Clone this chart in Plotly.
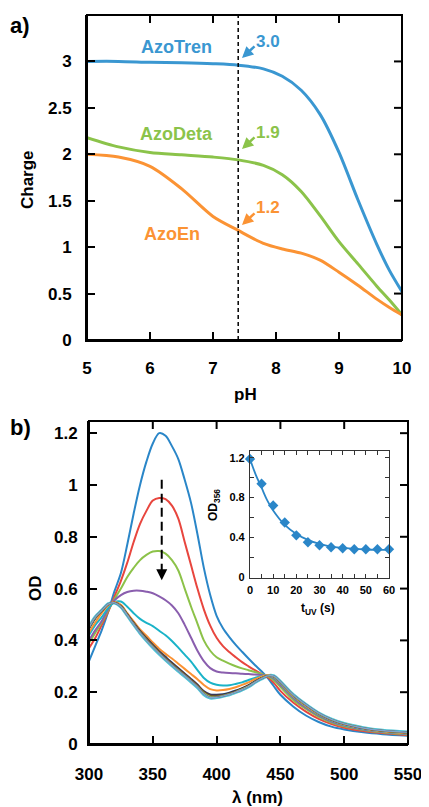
import plotly.graph_objects as go

# the page shows the figure 8 px in from the top-left corner of a 429x807 window
OFF = 8
W, H = 429 - OFF, 807 - OFF
FONT = "Liberation Sans"

# ---------------- Panel a data ----------------
ph = [5, 5.5, 6, 6.5, 7, 7.4, 7.8, 8.1, 8.4, 8.7, 9.0, 9.3, 9.6, 9.8, 10]
azotren = [3.0, 3.0, 2.99, 2.985, 2.975, 2.96, 2.92, 2.84, 2.69, 2.43, 2.02, 1.51, 1.03, 0.75, 0.52]
azodeta = [2.18, 2.08, 2.02, 1.995, 1.97, 1.94, 1.88, 1.78, 1.60, 1.34, 1.06, 0.82, 0.58, 0.43, 0.27]
azoen = [2.0, 1.97, 1.87, 1.63, 1.33, 1.18, 1.04, 0.98, 0.935, 0.86, 0.73, 0.59, 0.44, 0.35, 0.27]
ph_ref = 7.4
names_a = ["AzoTren", "AzoDeta", "AzoEn"]
values_at_ref = ["3.0", "1.9", "1.2"]
ph_ticks = [5, 6, 7, 8, 9, 10]
charge_ticks = [0, 0.5, 1, 1.5, 2, 2.5, 3]
charge_ticktext = ["0", "0.5", "1", "1.5", "2", "2.5", "3"]

# ---------------- Panel b data ----------------
wl = [300, 305, 310, 315, 320, 325, 330, 335, 340, 345, 350, 355, 360, 365, 370, 375, 380, 385, 390,
      395, 400, 405, 410, 415, 420, 425, 430, 435, 440, 445, 450, 460, 470, 480, 490, 500, 515, 530, 550]
od_t0 = [0.32, 0.38, 0.44, 0.51, 0.59, 0.66, 0.77, 0.89, 1.00, 1.09, 1.16, 1.20, 1.19, 1.15, 1.10, 1.02, 0.93, 0.81, 0.68,
         0.575, 0.495, 0.447, 0.413, 0.383, 0.356, 0.33, 0.305, 0.282, 0.255, 0.222, 0.19, 0.145, 0.11, 0.085, 0.067, 0.056, 0.045, 0.038, 0.032]
od_t5 = [0.37, 0.41, 0.46, 0.51, 0.57, 0.63, 0.70, 0.78, 0.85, 0.90, 0.94, 0.95, 0.945, 0.92, 0.87, 0.78, 0.69, 0.60, 0.52,
         0.457, 0.41, 0.378, 0.355, 0.335, 0.316, 0.30, 0.285, 0.271, 0.258, 0.235, 0.205, 0.16, 0.125, 0.097, 0.077, 0.063, 0.05, 0.042, 0.034]
od_t10 = [0.39, 0.43, 0.47, 0.515, 0.56, 0.60, 0.645, 0.68, 0.71, 0.73, 0.743, 0.745, 0.735, 0.71, 0.67, 0.60, 0.53, 0.465, 0.40,
          0.36, 0.335, 0.322, 0.31, 0.30, 0.292, 0.285, 0.278, 0.27, 0.262, 0.245, 0.22, 0.17, 0.135, 0.105, 0.083, 0.068, 0.054, 0.045, 0.037]
od_t15 = [0.40, 0.44, 0.475, 0.52, 0.555, 0.575, 0.587, 0.592, 0.592, 0.588, 0.582, 0.57, 0.555, 0.535, 0.505, 0.46, 0.41, 0.36, 0.32,
          0.293, 0.28, 0.276, 0.274, 0.273, 0.271, 0.27, 0.268, 0.266, 0.264, 0.252, 0.228, 0.178, 0.14, 0.11, 0.087, 0.071, 0.056, 0.047, 0.038]
od_t20 = [0.42, 0.46, 0.49, 0.525, 0.548, 0.55, 0.53, 0.505, 0.483, 0.468, 0.455, 0.437, 0.42, 0.398, 0.372, 0.345, 0.318, 0.285, 0.255,
          0.237, 0.229, 0.226, 0.227, 0.232, 0.238, 0.247, 0.255, 0.262, 0.265, 0.256, 0.234, 0.183, 0.145, 0.113, 0.09, 0.073, 0.058, 0.048, 0.04]
od_t25 = [0.43, 0.47, 0.505, 0.535, 0.548, 0.537, 0.505, 0.473, 0.442, 0.418, 0.392, 0.368, 0.348, 0.33, 0.31, 0.29, 0.27, 0.25, 0.228,
          0.212, 0.207, 0.208, 0.212, 0.219, 0.228, 0.238, 0.25, 0.26, 0.265, 0.258, 0.236, 0.185, 0.147, 0.115, 0.092, 0.075, 0.06, 0.049, 0.041]
od_t30 = [0.445, 0.485, 0.512, 0.538, 0.546, 0.533, 0.502, 0.469, 0.437, 0.41, 0.384, 0.359, 0.337, 0.315, 0.294, 0.273, 0.252, 0.23, 0.205,
          0.192, 0.191, 0.193, 0.199, 0.207, 0.216, 0.228, 0.242, 0.255, 0.263, 0.26, 0.238, 0.188, 0.15, 0.117, 0.094, 0.077, 0.061, 0.051, 0.043]
od_t35 = [0.447, 0.487, 0.513, 0.539, 0.546, 0.532, 0.5, 0.467, 0.434, 0.407, 0.381, 0.356, 0.333, 0.311, 0.29, 0.27, 0.249, 0.227, 0.202,
          0.188, 0.187, 0.189, 0.196, 0.204, 0.214, 0.226, 0.241, 0.254, 0.263, 0.261, 0.239, 0.189, 0.151, 0.118, 0.094, 0.077, 0.061, 0.051, 0.044]
od_t40 = [0.448, 0.488, 0.514, 0.539, 0.545, 0.531, 0.499, 0.465, 0.432, 0.404, 0.378, 0.353, 0.33, 0.308, 0.287, 0.267, 0.246, 0.224, 0.199,
          0.185, 0.184, 0.187, 0.194, 0.202, 0.212, 0.224, 0.24, 0.253, 0.263, 0.261, 0.239, 0.189, 0.151, 0.118, 0.095, 0.078, 0.062, 0.051, 0.044]
od_t45 = [0.449, 0.489, 0.514, 0.539, 0.545, 0.531, 0.498, 0.464, 0.431, 0.402, 0.376, 0.351, 0.328, 0.306, 0.285, 0.265, 0.244, 0.222, 0.196,
          0.182, 0.182, 0.186, 0.193, 0.201, 0.211, 0.223, 0.239, 0.253, 0.263, 0.261, 0.239, 0.189, 0.151, 0.118, 0.095, 0.078, 0.062, 0.052, 0.044]
od_t50 = [0.45, 0.49, 0.515, 0.54, 0.545, 0.53, 0.497, 0.463, 0.43, 0.401, 0.375, 0.35, 0.327, 0.305, 0.284, 0.264, 0.243, 0.221, 0.194,
          0.18, 0.181, 0.185, 0.192, 0.2, 0.21, 0.222, 0.238, 0.252, 0.263, 0.262, 0.24, 0.19, 0.152, 0.119, 0.095, 0.078, 0.062, 0.052, 0.045]
od_t55 = [0.45, 0.49, 0.515, 0.54, 0.545, 0.53, 0.497, 0.462, 0.429, 0.4, 0.374, 0.349, 0.326, 0.304, 0.283, 0.263, 0.242, 0.22, 0.193,
          0.179, 0.18, 0.185, 0.191, 0.2, 0.21, 0.222, 0.238, 0.252, 0.263, 0.262, 0.24, 0.19, 0.152, 0.119, 0.095, 0.078, 0.062, 0.052, 0.045]
od_t60 = [0.45, 0.49, 0.515, 0.54, 0.545, 0.53, 0.497, 0.462, 0.429, 0.4, 0.373, 0.348, 0.325, 0.303, 0.282, 0.262, 0.241, 0.219, 0.192,
          0.178, 0.18, 0.185, 0.191, 0.2, 0.21, 0.222, 0.238, 0.252, 0.263, 0.262, 0.24, 0.19, 0.152, 0.119, 0.095, 0.078, 0.062, 0.052, 0.045]
wl_ticks = [300, 350, 400, 450, 500, 550]
od_ticks = [0, 0.2, 0.4, 0.6, 0.8, 1.0, 1.2]
od_ticktext = ["0", "0.2", "0.4", "0.6", "0.8", "1", "1.2"]
peak_wl = 357
arrow_od = [1.02, 0.632]

# Inset data
t_uv = [0, 5, 10, 15, 20, 25, 30, 35, 40, 45, 50, 55, 60]
od356 = [1.19, 0.94, 0.72, 0.55, 0.42, 0.35, 0.32, 0.30, 0.29, 0.28, 0.28, 0.28, 0.28]
t_fit = [0, 2.5, 5, 7.5, 10, 15, 20, 25, 30, 35, 40, 45, 50, 55, 60]
od_fit = [1.19, 1.03, 0.90, 0.77, 0.67, 0.525, 0.434, 0.374, 0.333, 0.306, 0.293, 0.283, 0.277, 0.274, 0.274]
t_ticks = [0, 10, 20, 30, 40, 50, 60]
inset_od_ticks = [0, 0.4, 0.8, 1.2]
inset_od_ticktext = ["0", "0.4", "0.8", "1.2"]

# ---------------- styles ----------------
C_TREN = "#3a97d1"
C_DETA = "#8bc34a"
C_EN = "#fb9334"

spectra = [
    (od_t60, "#4cc2d4", 3.5),
    (od_t0, "#2a86c8", 2),
    (od_t5, "#e8463e", 2),
    (od_t10, "#8cc249", 2),
    (od_t15, "#8a5eae", 2),
    (od_t20, "#1ab3c8", 2),
    (od_t25, "#fb9232", 2),
    (od_t30, "#213f66", 1.6),
    (od_t35, "#7a2b28", 1.6),
    (od_t40, "#5e7a2e", 1.6),
    (od_t45, "#a9c96c", 1.6),
    (od_t50, "#4d3b62", 1.4),
    (od_t55, "#7fa7cf", 1.4),
]


def px(x):
    """window pixel x -> paper fraction"""
    return (x - OFF) / W


def py(y):
    """window pixel y -> paper fraction"""
    return 1 - (y - OFF) / H


fig = go.Figure()

for yv, c in [(azotren, C_TREN), (azodeta, C_DETA), (azoen, C_EN)]:
    fig.add_trace(go.Scatter(x=ph, y=yv, mode="lines", line=dict(color=c, width=3, shape="spline", smoothing=0.8),
                             xaxis="x", yaxis="y", showlegend=False, hoverinfo="skip"))

for yv, c, w in spectra:
    fig.add_trace(go.Scatter(x=wl, y=yv, mode="lines", line=dict(color=c, width=w, shape="spline", smoothing=0.9),
                             xaxis="x2", yaxis="y2", showlegend=False, hoverinfo="skip"))

fig.add_trace(go.Scatter(x=t_fit, y=od_fit, mode="lines", line=dict(color="#2a86c8", width=1.8, shape="spline"),
                         xaxis="x3", yaxis="y3", showlegend=False, hoverinfo="skip"))
fig.add_trace(go.Scatter(x=t_uv, y=od356, mode="markers", marker=dict(symbol="diamond", size=8, color="#2a86c8"),
                         xaxis="x3", yaxis="y3", showlegend=False, cliponaxis=False, hoverinfo="skip"))

tickfont = dict(family=FONT, size=17, color="black", weight="bold")
axis_common = dict(showline=True, linewidth=2, linecolor="black", mirror=False, ticks="inside",
                   ticklen=8, tickwidth=2, tickcolor="black", showgrid=False, zeroline=False,
                   tickfont=tickfont, automargin=False)

inset_font = dict(family=FONT, size=11, color="black", weight="bold")
inset_common = dict(showline=True, linewidth=1.2, linecolor="#333", mirror="ticks", ticks="inside",
                    ticklen=4, tickwidth=1, tickcolor="#333", showgrid=False, zeroline=False,
                    tickfont=inset_font, ticklabelstandoff=2, automargin=False)

fig.update_layout(
    width=W, height=H,
    margin=dict(l=0, r=0, t=0, b=0, pad=0, autoexpand=False),
    paper_bgcolor="white", plot_bgcolor="white",
    xaxis=dict(domain=[px(87), px(402)], range=[5, 10], tickvals=ph_ticks, anchor="y",
               ticklabelstandoff=12, **axis_common),
    yaxis=dict(domain=[py(340), py(15)], range=[0, 3.5], tickvals=charge_ticks, ticktext=charge_ticktext,
               anchor="x", ticklabelstandoff=10, **axis_common),
    xaxis2=dict(domain=[px(89), px(408)], range=[300, 550], tickvals=wl_ticks, anchor="y2",
                ticklabelstandoff=14, **axis_common),
    yaxis2=dict(domain=[py(744), py(421)], range=[0, 1.247], tickvals=od_ticks, ticktext=od_ticktext,
                anchor="x2", ticklabelstandoff=6, **axis_common),
    xaxis3=dict(domain=[px(250), px(389)], range=[0, 60], tickvals=t_ticks, anchor="y3",
                minor=dict(dtick=5, ticks="inside", ticklen=4, tickcolor="#333"), **inset_common),
    yaxis3=dict(domain=[py(578), py(451)], range=[-0.01, 1.27], tickvals=inset_od_ticks, ticktext=inset_od_ticktext,
                anchor="x3", minor=dict(dtick=0.2, ticks="inside", ticklen=4, tickcolor="#333"), **inset_common),
)

for xa, ya, xt, yt in [("x", "y", ph_ticks, charge_ticks), ("x2", "y2", wl_ticks, od_ticks)]:
    fig.add_shape(type="rect", xref=f"{xa} domain", yref=f"{ya} domain", x0=0, x1=1, y0=0, y1=1,
                  line=dict(color="black", width=2), fillcolor="rgba(0,0,0,0)", layer="above")
    for v in xt[1:-1]:
        fig.add_shape(type="line", xref=xa, yref=f"{ya} domain", ysizemode="pixel", yanchor=1,
                      x0=v, x1=v, y0=0, y1=-8, line=dict(color="black", width=2), layer="above")
    for v in yt[1:]:
        fig.add_shape(type="line", yref=ya, xref=f"{xa} domain", xsizemode="pixel", xanchor=1,
                      y0=v, y1=v, x0=0, x1=-8, line=dict(color="black", width=2), layer="above")

fig.add_shape(type="line", x0=ph_ref, x1=ph_ref, y0=0, y1=3.5, xref="x", yref="y",
              line=dict(color="black", width=1.5, dash="4px,3px"))
fig.add_shape(type="line", x0=peak_wl, x1=peak_wl, y0=arrow_od[0], y1=arrow_od[1] + 0.035, xref="x2", yref="y2",
              line=dict(color="black", width=2, dash="9px,5px"))
fig.add_annotation(x=peak_wl, y=arrow_od[1], ax=peak_wl, ay=arrow_od[1] + 0.045, xref="x2", yref="y2",
                   axref="x2", ayref="y2", text="", showarrow=True, arrowhead=2, arrowsize=1.1,
                   arrowwidth=2, arrowcolor="black")


def label(text, x, y, size=17, color="black", angle=0):
    fig.add_annotation(x=px(x), y=py(y), xref="paper", yref="paper", text=text, showarrow=False,
                       textangle=angle, xanchor="center", yanchor="middle",
                       font=dict(family=FONT, size=size, color=color, weight="bold"))


label("a)", 20, 25, size=22)
label("b)", 20, 427, size=22)
label("Charge", 28, 180, angle=-90)
label("pH", 245, 394)
label("OD", 35, 588, angle=-90)
label("λ (nm)", 257, 797)
label("OD<sub>356</sub>", 214, 505, size=12, angle=-90)
label("t<sub>UV</sub> (s)", 318, 609, size=12)
label(names_a[0], 176, 47, size=18, color=C_TREN)
label(names_a[1], 176, 134, size=18, color=C_DETA)
label(names_a[2], 172, 234, size=18, color=C_EN)
for txt, ty, c in zip(values_at_ref, [41, 132, 208], [C_TREN, C_DETA, C_EN]):
    label(txt, 268, ty, size=17, color=c)
    fig.add_annotation(x=px(242), y=py(ty + 17), xref="paper", yref="paper", ax=14, ay=-13, text="",
                       showarrow=True, arrowhead=2, arrowsize=0.9, arrowwidth=2.5, arrowcolor=c)

fig.write_html("out.html")
